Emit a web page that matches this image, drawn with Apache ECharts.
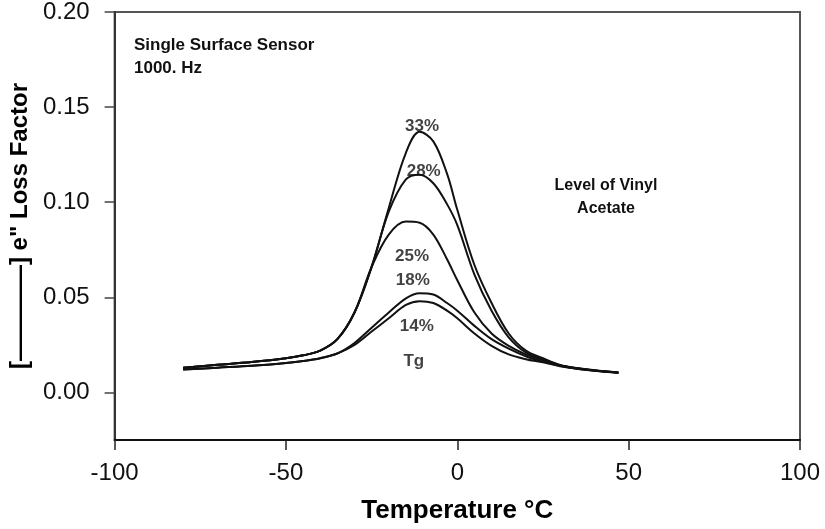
<!DOCTYPE html>
<html>
<head>
<meta charset="utf-8">
<script src="https://cdn.jsdelivr.net/npm/echarts@6/dist/echarts.min.js"></script>
<style>
html,body{margin:0;padding:0;background:#fff;}
#chart{width:825px;height:529px;}
</style>
</head>
<body>
<div id="chart"></div>
<script>
// Temperature (°C) sample points
const temps = [-80,-70,-60,-50,-45,-40,-35,-30,-25,-20,-15,-11,-7,-3,0,5,10,15,20,25,30,35,40,47];
// Loss factor series by vinyl acetate level
const va33 = [0.013,0.0145,0.016,0.018,0.0195,0.022,0.028,0.042,0.066,0.097,0.126,0.137,0.132,0.115,0.096,0.067,0.047,0.031,0.022,0.018,0.0145,0.0128,0.0117,0.0105];
const va28 = [0.013,0.0145,0.016,0.018,0.0195,0.022,0.028,0.042,0.066,0.095,0.112,0.1145,0.110,0.099,0.088,0.062,0.043,0.029,0.021,0.0175,0.0143,0.0127,0.0116,0.0105];
const va25 = [0.013,0.0145,0.016,0.018,0.0195,0.022,0.028,0.042,0.066,0.083,0.0898,0.0892,0.083,0.070,0.059,0.042,0.031,0.0245,0.020,0.017,0.0142,0.0126,0.0115,0.0104];
const va18 = [0.012,0.013,0.014,0.0155,0.0165,0.018,0.0205,0.026,0.034,0.042,0.0495,0.0522,0.0515,0.047,0.043,0.035,0.028,0.023,0.019,0.0162,0.014,0.0125,0.0115,0.0104];
const va14 = [0.012,0.013,0.014,0.0155,0.0165,0.018,0.0205,0.025,0.032,0.039,0.046,0.048,0.047,0.043,0.039,0.031,0.0245,0.020,0.0175,0.0158,0.0138,0.0124,0.0114,0.0103];
const seriesNames = ['33%','28%','25%','18%','14%'];
// In-plot labels
const lblText = ['33%','28%','25%','18%','14%','Tg'];
const lblX = [-10.3,-9.8,-13.2,-13.0,-11.8,-12.7];
const lblY = [0.140,0.1165,0.0715,0.059,0.035,0.0162];
// Ticks
const xTicks = [-100,-50,0,50,100];
const yTicks = [0,0.05,0.10,0.15,0.20];

const chart = echarts.init(document.getElementById('chart'));
const allVals = [va33,va28,va25,va18,va14];
const lineSeries = allVals.map((vals,i)=>({
  name: seriesNames[i], type:'line', smooth:0.35, showSymbol:false, silent:true,
  data: temps.map((t,j)=>[t, vals[j]]),
  lineStyle:{color:'#111', width:2}, z:3
}));
const font = 'Liberation Sans, Arial, sans-serif';
chart.setOption({
  animation:false,
  backgroundColor:'#fff',
  grid:{left:113, right:25, top:10, bottom:88, show:true, borderColor:'#555', borderWidth:2, containLabel:false},
  xAxis:{
    type:'value', min:-100, max:100, interval:50,
    axisLine:{show:true, onZero:false, lineStyle:{color:'#111', width:2}},
    axisTick:{show:true, length:10, lineStyle:{color:'#222', width:1.5}},
    splitLine:{show:false},
    axisLabel:{color:'#111', fontSize:24, fontFamily:font, margin:21, customValues: xTicks},
    name:'Temperature °C', nameLocation:'middle', nameGap:58,
    nameTextStyle:{color:'#000', fontSize:26, fontWeight:'bold', fontFamily:font}
  },
  yAxis:{
    type:'value', min:-0.025, max:0.2,
    axisLine:{show:true, onZero:false, lineStyle:{color:'#333', width:2}},
    axisTick:{show:true, length:10, customValues: yTicks, lineStyle:{color:'#444', width:1.5}},
    splitLine:{show:false},
    axisLabel:{color:'#111', fontSize:24, fontFamily:font, margin:25, customValues: yTicks, formatter:v=>v.toFixed(2)},
    name:'[————] e" Loss Factor', nameLocation:'middle', nameGap:80, nameRotate:90,
    nameTextStyle:{color:'#000', fontSize:24, fontWeight:'bold', fontFamily:font}
  },
  series: lineSeries.concat([{
    type:'scatter', symbolSize:0, silent:true, z:5,
    data: lblText.map((s,i)=>({name:s, value:[lblX[i], lblY[i]]})),
    label:{show:true, position:'inside', formatter:p=>p.name, color:'#111', fontSize:17, fontWeight:'bold', fontFamily:font}
  }]),
  graphic:[
    {type:'text', left:134, top:34, style:{text:'Single Surface Sensor\n1000. Hz', fill:'#111', font:'bold 17px '+font, lineHeight:23}},
    {type:'text', x:606, y:174, style:{text:'Level of Vinyl\nAcetate', fill:'#111', font:'bold 16px '+font, align:'center', lineHeight:23}}
  ]
});
</script>
</body>
</html>
